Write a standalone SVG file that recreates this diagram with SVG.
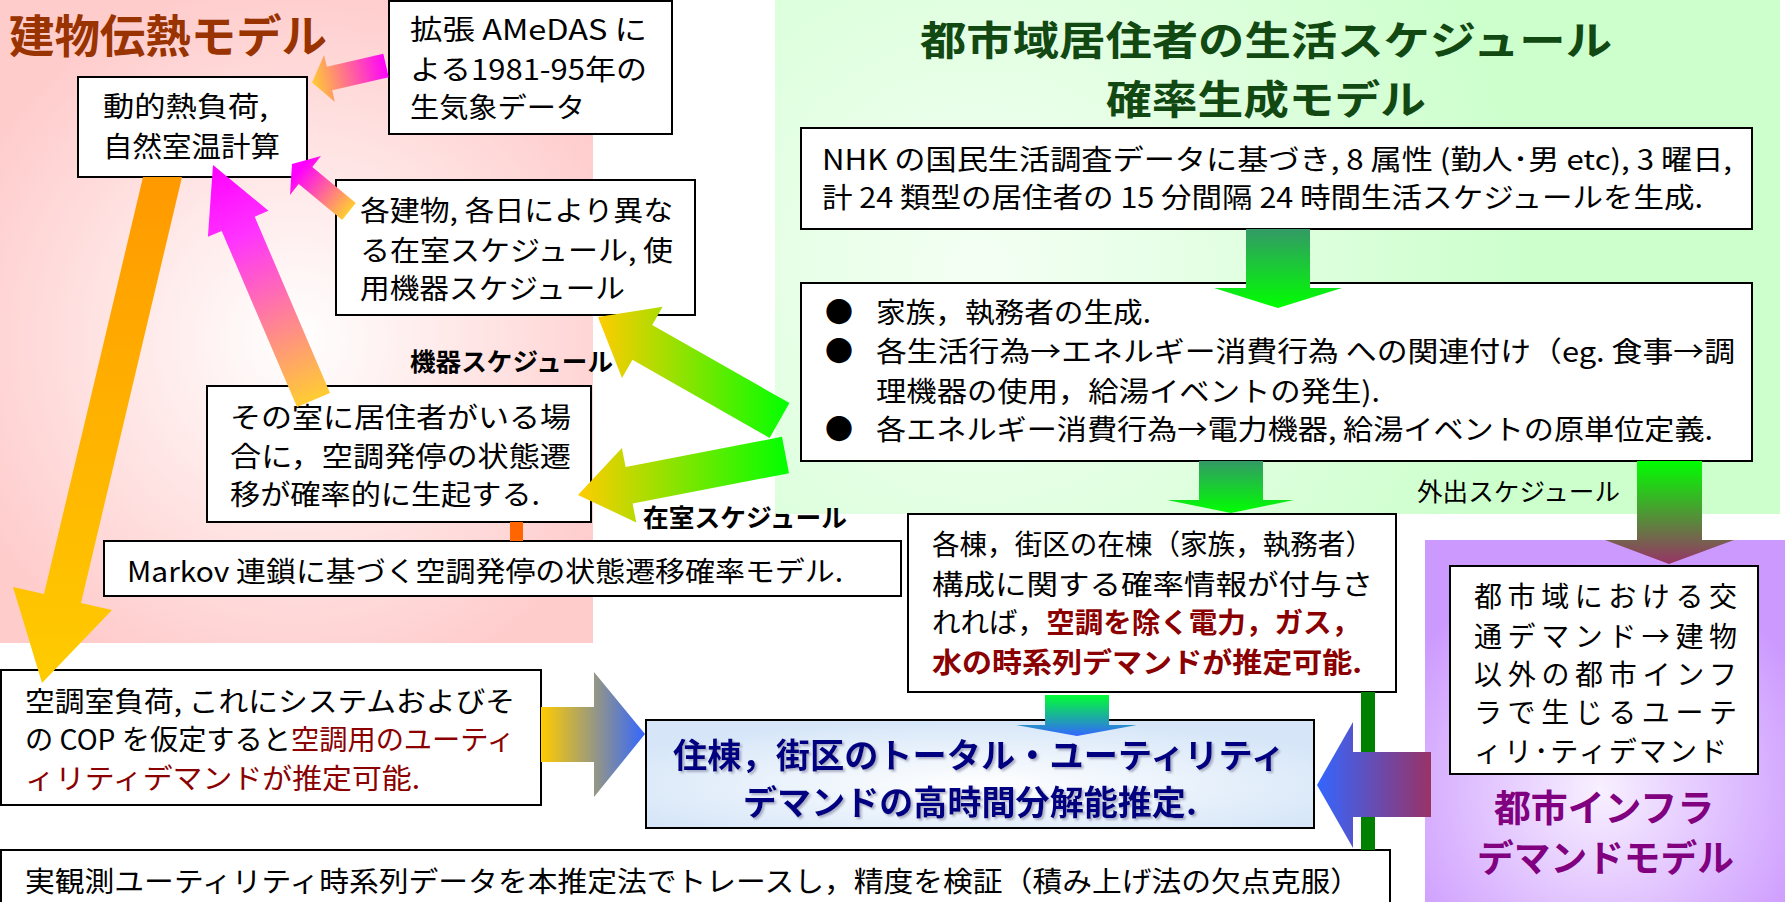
<svg xmlns="http://www.w3.org/2000/svg" width="1787" height="902" viewBox="0 0 1787 902">
<style>
.box{fill:#fff;stroke:#000;stroke-width:2}
.t{font-family:"Noto Sans CJK JP","Noto Sans",sans-serif;font-size:28px;fill:#000}
.lbl{font-family:"Noto Sans CJK JP","Noto Sans",sans-serif;font-size:25px;fill:#000}
.b{font-weight:bold}
.red{fill:#8B0000}
.main{font-family:"Noto Sans CJK JP","Noto Sans",sans-serif;font-size:34px;font-weight:bold;fill:#000080}
</style>
<defs>
<radialGradient id="pinkBg" gradientUnits="userSpaceOnUse" cx="296" cy="340" r="360">
<stop offset="0" stop-color="#FFFFFF"/><stop offset="1" stop-color="#FFCCCC"/></radialGradient>
<radialGradient id="greenBg" gradientUnits="userSpaceOnUse" cx="980" cy="270" r="560">
<stop offset="0" stop-color="#F4FFF4"/><stop offset="1" stop-color="#CCFFCC"/></radialGradient>
<radialGradient id="purpleBg" gradientUnits="userSpaceOnUse" cx="1600" cy="790" r="230">
<stop offset="0" stop-color="#F8F0FF"/><stop offset="1" stop-color="#CC99FF"/></radialGradient>
<radialGradient id="mainFill" cx="0.5" cy="0.6" r="0.6">
<stop offset="0" stop-color="#FFFFFF"/><stop offset="1" stop-color="#D6E6F8"/></radialGradient>
<linearGradient id="gOrange" gradientUnits="userSpaceOnUse" x1="0" y1="177" x2="0" y2="683">
<stop offset="0" stop-color="#FF9900"/><stop offset="1" stop-color="#FFCC00"/></linearGradient>
<linearGradient id="gPinkBig" gradientUnits="userSpaceOnUse" x1="313" y1="400" x2="213" y2="165">
<stop offset="0" stop-color="#FFCC33"/><stop offset="0.7" stop-color="#FF33FF"/><stop offset="1" stop-color="#FF00FF"/></linearGradient>
<linearGradient id="gPinkSmall" gradientUnits="userSpaceOnUse" x1="349" y1="211" x2="300" y2="170">
<stop offset="0" stop-color="#FFCC33"/><stop offset="1" stop-color="#FF00FF"/></linearGradient>
<linearGradient id="gAmedas" gradientUnits="userSpaceOnUse" x1="388" y1="66" x2="312" y2="82">
<stop offset="0" stop-color="#FF00FF"/><stop offset="1" stop-color="#FFCC33"/></linearGradient>
<linearGradient id="gYG1" gradientUnits="userSpaceOnUse" x1="598" y1="0" x2="790" y2="0">
<stop offset="0" stop-color="#FFCC00"/><stop offset="1" stop-color="#00FF00"/></linearGradient>
<linearGradient id="gYG2" gradientUnits="userSpaceOnUse" x1="578" y1="0" x2="789" y2="0">
<stop offset="0" stop-color="#FFCC00"/><stop offset="1" stop-color="#00FF00"/></linearGradient>
<linearGradient id="gGreenDown" x1="0" y1="0" x2="0" y2="1">
<stop offset="0" stop-color="#339966"/><stop offset="1" stop-color="#00FF00"/></linearGradient>
<linearGradient id="gGreenMaroon" x1="0" y1="0" x2="0" y2="1">
<stop offset="0" stop-color="#00FF00"/><stop offset="1" stop-color="#993366"/></linearGradient>
<linearGradient id="gGreenBlue" x1="0" y1="0" x2="0" y2="1">
<stop offset="0" stop-color="#00FF33"/><stop offset="1" stop-color="#3366FF"/></linearGradient>
<linearGradient id="gYellowBlue" x1="0" y1="0" x2="1" y2="0">
<stop offset="0" stop-color="#FFCC00"/><stop offset="1" stop-color="#3366FF"/></linearGradient>
<linearGradient id="gMaroonBlue" x1="0" y1="0" x2="1" y2="0">
<stop offset="0" stop-color="#3366FF"/><stop offset="1" stop-color="#993366"/></linearGradient>
<filter id="shadow" x="-5%" y="-20%" width="110%" height="140%">
<feDropShadow dx="2" dy="2" stdDeviation="1" flood-color="#8080A0" flood-opacity="0.6"/></filter>
</defs>

<g id="background">
<rect x="0" y="0" width="1787" height="902" fill="#FFFFFF"/>
<rect x="0" y="0" width="593" height="643" fill="url(#pinkBg)"/>
<rect x="775" y="0" width="1005" height="514" fill="url(#greenBg)"/>
<rect x="1425" y="540" width="360" height="362" fill="url(#purpleBg)"/>
<text class="b" x="9" y="53" font-family="Noto Sans CJK JP, sans-serif" font-size="45" fill="#993300" textLength="318" lengthAdjust="spacingAndGlyphs">建物伝熱モデル</text>
<text class="b" x="920" y="55" font-family="Noto Sans CJK JP, sans-serif" font-size="40" fill="#124812" textLength="692" lengthAdjust="spacingAndGlyphs">都市域居住者の生活スケジュール</text>
<text class="b" x="1106" y="114" font-family="Noto Sans CJK JP, sans-serif" font-size="40" fill="#124812" textLength="320" lengthAdjust="spacingAndGlyphs">確率生成モデル</text>
<text class="b" x="1494" y="822" font-family="Noto Sans CJK JP, sans-serif" font-size="37" fill="#800080" textLength="220" lengthAdjust="spacingAndGlyphs">都市インフラ</text>
<text class="b" x="1477" y="872" font-family="Noto Sans CJK JP, sans-serif" font-size="37" fill="#800080" textLength="257" lengthAdjust="spacingAndGlyphs">デマンドモデル</text>
</g>

<g id="node-amedas">
<rect class="box" x="389" y="1" width="283" height="133"/>
<text class="t" x="410" y="40" textLength="237" lengthAdjust="spacingAndGlyphs">拡張 AMeDAS に</text>
<text class="t" x="410" y="80" textLength="237" lengthAdjust="spacingAndGlyphs">よる1981-95年の</text>
<text class="t" x="410" y="118" textLength="175" lengthAdjust="spacingAndGlyphs">生気象データ</text>
</g>

<g id="node-heatload">
<rect class="box" x="78" y="77" width="229" height="100"/>
<text class="t" x="103" y="117" textLength="165" lengthAdjust="spacingAndGlyphs">動的熱負荷,</text>
<text class="t" x="103" y="157" textLength="177" lengthAdjust="spacingAndGlyphs">自然室温計算</text>
</g>

<g id="node-schedule">
<rect class="box" x="336" y="180" width="359" height="135"/>
<text class="t" x="360" y="221" textLength="313" lengthAdjust="spacingAndGlyphs">各建物, 各日により異な</text>
<text class="t" x="360" y="261" textLength="313" lengthAdjust="spacingAndGlyphs">る在室スケジュール, 使</text>
<text class="t" x="360" y="299" textLength="265" lengthAdjust="spacingAndGlyphs">用機器スケジュール</text>
</g>

<g id="node-occupant">
<rect class="box" x="207" y="386" width="384" height="136"/>
<text class="t" x="230" y="428" textLength="341" lengthAdjust="spacingAndGlyphs">その室に居住者がいる場</text>
<text class="t" x="230" y="467" textLength="341" lengthAdjust="spacingAndGlyphs">合に，空調発停の状態遷</text>
<text class="t" x="230" y="505" textLength="310" lengthAdjust="spacingAndGlyphs">移が確率的に生起する.</text>
</g>

<g id="node-markov">
<rect class="box" x="104" y="541" width="797" height="55"/>
<text class="t" x="127" y="582" textLength="716" lengthAdjust="spacingAndGlyphs">Markov 連鎖に基づく空調発停の状態遷移確率モデル.</text>
</g>

<g id="node-nhk">
<rect class="box" x="801" y="128" width="951" height="101"/>
<text class="t" x="822" y="170" textLength="910" lengthAdjust="spacingAndGlyphs">NHK の国民生活調査データに基づき, 8 属性 (勤人･男 etc), 3 曜日,</text>
<text class="t" x="822" y="208" textLength="881" lengthAdjust="spacingAndGlyphs">計 24 類型の居住者の 15 分間隔 24 時間生活スケジュールを生成.</text>
</g>

<g id="node-bullets">
<rect class="box" x="801" y="283" width="951" height="178"/>
<text class="t" x="825" y="323">●</text>
<text class="t" x="825" y="362">●</text>
<text class="t" x="825" y="440">●</text>
<text class="t" x="876" y="323" textLength="275" lengthAdjust="spacingAndGlyphs">家族，執務者の生成.</text>
<text class="t" x="876" y="362" textLength="859" lengthAdjust="spacingAndGlyphs">各生活行為→エネルギー消費行為 への関連付け（eg. 食事→調</text>
<text class="t" x="876" y="402" textLength="504" lengthAdjust="spacingAndGlyphs">理機器の使用，給湯イベントの発生).</text>
<text class="t" x="876" y="440" textLength="837" lengthAdjust="spacingAndGlyphs">各エネルギー消費行為→電力機器, 給湯イベントの原単位定義.</text>
</g>

<g id="node-household">
<rect class="box" x="908" y="514" width="488" height="178"/>
<text class="t" x="932" y="555" textLength="441" lengthAdjust="spacingAndGlyphs">各棟，街区の在棟（家族，執務者）</text>
<text class="t" x="932" y="595" textLength="441" lengthAdjust="spacingAndGlyphs">構成に関する確率情報が付与さ</text>
<text class="t" x="932" y="633" textLength="428" lengthAdjust="spacingAndGlyphs">れれば，<tspan class="red b">空調を除く電力，ガス，</tspan></text>
<text class="t red b" x="932" y="673" textLength="430" lengthAdjust="spacingAndGlyphs">水の時系列デマンドが推定可能.</text>
</g>

<g id="node-aircon">
<rect class="box" x="1" y="670" width="540" height="135"/>
<text class="t" x="25" y="712" textLength="490" lengthAdjust="spacingAndGlyphs">空調室負荷, これにシステムおよびそ</text>
<text class="t" x="25" y="750" textLength="490" lengthAdjust="spacingAndGlyphs">の COP を仮定すると<tspan class="red">空調用のユーティ</tspan></text>
<text class="t red" x="25" y="789" textLength="395" lengthAdjust="spacingAndGlyphs">ィリティデマンドが推定可能.</text>
</g>

<g id="node-main">
<rect x="646" y="720" width="668" height="108" fill="url(#mainFill)" stroke="#000" stroke-width="2"/>
<text class="main" x="673" y="768" filter="url(#shadow)" textLength="612" lengthAdjust="spacingAndGlyphs">住棟，街区のトータル・ユーティリティ</text>
<text class="main" x="743" y="815" filter="url(#shadow)" textLength="454" lengthAdjust="spacingAndGlyphs">デマンドの高時間分解能推定.</text>
</g>

<g id="node-infra">
<rect class="box" x="1450" y="566" width="308" height="208"/>
<text class="t" x="1474" y="607" textLength="263" lengthAdjust="spacing">都市域における交</text>
<text class="t" x="1474" y="647" textLength="263" lengthAdjust="spacing">通デマンド→建物</text>
<text class="t" x="1474" y="685" textLength="263" lengthAdjust="spacing">以外の都市インフ</text>
<text class="t" x="1474" y="723" textLength="263" lengthAdjust="spacing">ラで生じるユーテ</text>
<text class="t" x="1474" y="762" textLength="253" lengthAdjust="spacing">ィリ･ティデマンド</text>
</g>

<g id="node-verify">
<rect class="box" x="1" y="850" width="1389" height="60"/>
<text class="t" x="25" y="892" textLength="1335" lengthAdjust="spacingAndGlyphs">実観測ユーティリティ時系列データを本推定法でトレースし，精度を検証（積み上げ法の欠点克服）</text>
</g>

<g id="connectors">
<rect x="510" y="522" width="13" height="19" fill="#FF6600"/>
<rect x="1361" y="692" width="14" height="158" fill="#008000"/>
<polygon points="143,177 182,177 81,603 112,610 42,683 13,587 44,594" fill="url(#gOrange)"/>
<polygon points="213,165 268.5,210.8 254.7,216.7 330,392.9 297,407.1 221.7,230.9 207.9,236.8" fill="url(#gPinkBig)"/>
<polygon points="292,164 321,156 312.3,166.9 355.8,202.9 342.2,220.1 298.7,184.1 290,195" fill="url(#gPinkSmall)"/>
<polygon points="312,82.5 324.1,55.1 326.8,66.8 383.3,53.8 388.7,77.2 332.2,90.2 334.9,101.9" fill="url(#gAmedas)"/>
<polygon points="598,317 662.6,306.7 652.2,324.9 789.4,403.1 769.6,437.9 632.4,359.7 622,377.9" fill="url(#gYG1)"/>
<polygon points="578,495 621.9,447.9 625.6,467 782,436.8 789,473.2 632.6,503.4 636.3,522.5" fill="url(#gYG2)"/>
<polygon points="1246,229 1310,229 1310,288 1342,288 1278,308 1214,288 1246,288" fill="url(#gGreenDown)"/>
<polygon points="1199,461 1263,461 1263,500 1294,500 1231,513 1167,500 1199,500" fill="url(#gGreenDown)"/>
<polygon points="1637,461 1702,461 1702,540 1734,540 1669,564 1605,540 1637,540" fill="url(#gGreenMaroon)"/>
<polygon points="1045,695 1109,695 1109,725 1137,725 1077,736 1016,725 1045,725" fill="url(#gGreenBlue)"/>
<polygon points="1431,752 1431,817 1353,817 1353,848 1317,785 1353,722 1353,752" fill="url(#gMaroonBlue)"/>
<polygon points="541,707 594,707 594,672 645,734 594,797 594,762 541,762" fill="url(#gYellowBlue)"/>
<text class="lbl b" x="410" y="371" textLength="203" lengthAdjust="spacingAndGlyphs">機器スケジュール</text>
<text class="lbl b" x="643" y="527" textLength="204" lengthAdjust="spacingAndGlyphs">在室スケジュール</text>
<text class="lbl" x="1417" y="501" textLength="203" lengthAdjust="spacingAndGlyphs">外出スケジュール</text>
</g>
</svg>
